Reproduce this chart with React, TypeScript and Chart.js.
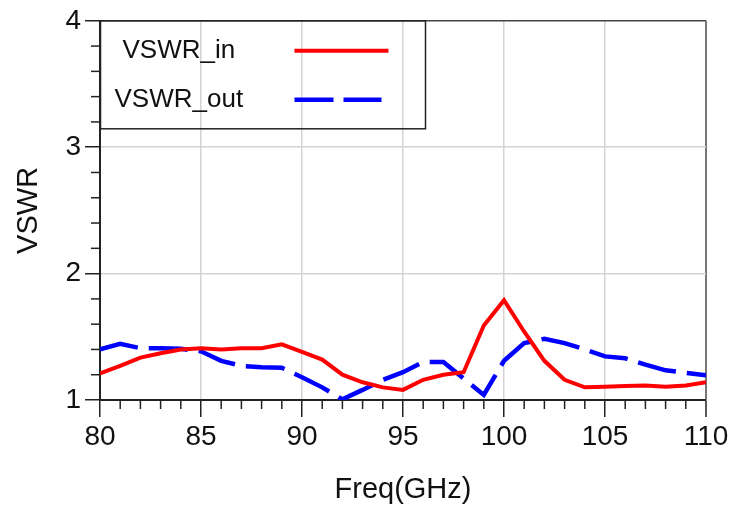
import React, { useEffect, useRef } from "react";
import { Chart, registerables } from "chart.js";

Chart.register(...registerables);

const freqs: number[] = [80, 81, 82, 83, 84, 85, 86, 87, 88, 89, 90, 91, 92, 93, 94, 95, 96, 97, 98, 99, 100, 101, 102, 103, 104, 105, 106, 107, 108, 109, 110];
const vswrIn: number[] = [1.21, 1.27, 1.335, 1.37, 1.4, 1.41, 1.4, 1.41, 1.41, 1.44, 1.38, 1.32, 1.2, 1.14, 1.1, 1.08, 1.16, 1.2, 1.22, 1.59, 1.79, 1.54, 1.31, 1.16, 1.1, 1.105, 1.11, 1.115, 1.105, 1.115, 1.14];
const vswrOut: number[] = [1.4, 1.445, 1.41, 1.41, 1.405, 1.385, 1.31, 1.27, 1.26, 1.255, 1.18, 1.1, 1.005, 1.08, 1.16, 1.22, 1.3, 1.3, 1.17, 1.04, 1.31, 1.45, 1.485, 1.45, 1.4, 1.345, 1.33, 1.28, 1.235, 1.215, 1.195];
const seriesNames: string[] = ["VSWR_in", "VSWR_out"];
const xTitle = "Freq(GHz)";
const yTitle = "VSWR";

const FONT = "'Liberation Sans', Arial, Helvetica, sans-serif";

const minorTicksAndLegend = {
  id: "minorTicksAndLegend",
  afterDraw(chart: any) {
    const ctx = chart.ctx;
    const xs = chart.scales.x;
    const ys = chart.scales.y;
    const ca = chart.chartArea;
    ctx.save();
    ctx.strokeStyle = "#222";
    ctx.lineWidth = 1.5;
    for (let f = 80; f <= 110; f++) {
      if (f % 5 === 0) continue;
      const px = xs.getPixelForValue(f);
      ctx.beginPath();
      ctx.moveTo(px, ca.bottom);
      ctx.lineTo(px, ca.bottom + 9);
      ctx.stroke();
    }
    for (let i = 0; i <= 15; i++) {
      if (i % 5 === 0) continue;
      const v = 1 + i * 0.2;
      const py = ys.getPixelForValue(v);
      ctx.beginPath();
      ctx.moveTo(ca.left - 9, py);
      ctx.lineTo(ca.left, py);
      ctx.stroke();
    }
    // legend box
    const bx = ca.left + 0.5;
    const by = ca.top;
    ctx.strokeStyle = "#222";
    ctx.lineWidth = 1.5;
    ctx.strokeRect(bx, by, 325, 108);
    ctx.fillStyle = "#111";
    ctx.font = `26px ${FONT}`;
    ctx.textBaseline = "middle";
    ctx.textAlign = "left";
    ctx.fillText(seriesNames[0], bx + 22, by + 30);
    ctx.fillText(seriesNames[1], bx + 14, by + 79);
    ctx.lineWidth = 4;
    ctx.strokeStyle = "#ff0000";
    ctx.beginPath();
    ctx.moveTo(bx + 194, by + 30);
    ctx.lineTo(bx + 288, by + 30);
    ctx.stroke();
    ctx.strokeStyle = "#0000ff";
    ctx.lineWidth = 4.5;
    ctx.setLineDash([39, 10]);
    ctx.beginPath();
    ctx.moveTo(bx + 194, by + 79);
    ctx.lineTo(bx + 281, by + 79);
    ctx.stroke();
    ctx.restore();
  },
};

export default function App() {
  const ref = useRef<HTMLCanvasElement | null>(null);
  useEffect(() => {
    if (!ref.current) return;
    Chart.defaults.font.family = FONT;
    const chart = new Chart(ref.current, {
      type: "line",
      data: {
        datasets: [
          {
            label: seriesNames[0],
            data: freqs.map((f, i) => ({ x: f, y: vswrIn[i] })),
            borderColor: "#ff0000",
            borderWidth: 4,
            pointRadius: 0,
            tension: 0,
            fill: false,
          },
          {
            label: seriesNames[1],
            data: freqs.map((f, i) => ({ x: f, y: vswrOut[i] })),
            borderColor: "#0000ff",
            borderWidth: 4.5,
            borderDash: [39, 11],
            pointRadius: 0,
            tension: 0,
            fill: false,
          },
        ],
      },
      options: {
        animation: false,
        responsive: false,
        devicePixelRatio: 1,
        layout: { padding: { top: 18, right: 31, left: 0, bottom: 0 } },
        plugins: { legend: { display: false }, tooltip: { enabled: false } },
        scales: {
          x: {
            type: "linear",
            min: 80,
            max: 110,
            afterFit: (s: any) => { s.height = 109; },
            ticks: {
              stepSize: 5,
              color: "#111",
              font: { size: 28 },
              padding: 3,
              maxRotation: 0,
            },
            grid: {
              color: (c: any) => (c.tick && c.tick.value === 110 ? "#777" : "#d4d4d4"),
              lineWidth: (c: any) => (c.tick && c.tick.value === 110 ? 2 : 1.5),
              tickColor: "#222",
              tickLength: 17,
              tickWidth: 1.5,
            },
            border: { color: "#222", width: 2 },
            title: {
              display: true,
              text: xTitle,
              color: "#111",
              font: { size: 29 },
              padding: { top: 0, bottom: 2 },
            },
          },
          y: {
            min: 1,
            max: 4,
            afterFit: (s: any) => { s.width = 100; },
            ticks: {
              stepSize: 1,
              color: "#111",
              font: { size: 28 },
              padding: 4,
            },
            grid: {
              color: (c: any) => (c.tick && c.tick.value === 4 ? "#444" : "#d4d4d4"),
              lineWidth: 1.5,
              tickColor: "#222",
              tickLength: 15,
              tickWidth: 1.5,
            },
            border: { color: "#222", width: 2 },
            title: {
              display: true,
              text: yTitle,
              color: "#111",
              font: { size: 29 },
              padding: { top: 12, bottom: 0 },
            },
          },
        },
      },
      plugins: [minorTicksAndLegend],
    });
    return () => chart.destroy();
  }, []);
  return (
    <div style={{ position: "fixed", left: 0, top: 0, width: 737, height: 509, background: "#fff" }}>
      <canvas ref={ref} width={737} height={509} />
    </div>
  );
}
